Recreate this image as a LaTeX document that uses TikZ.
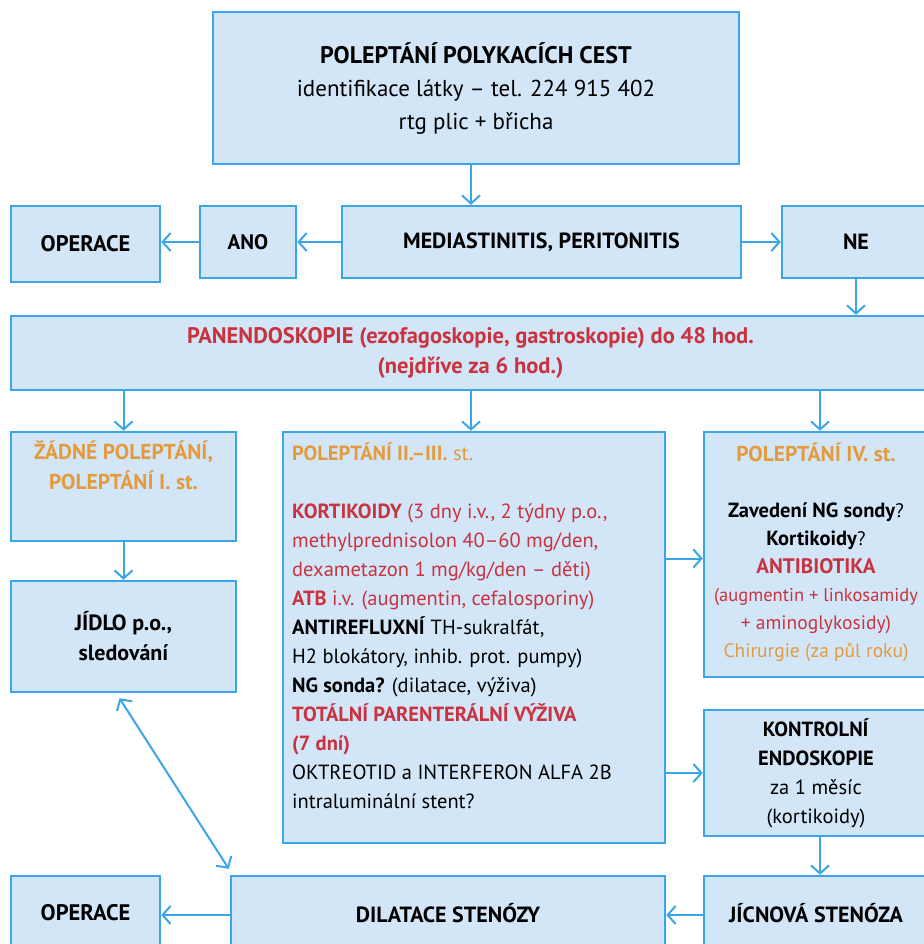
\documentclass[tikz,border=0pt]{standalone}
\usepackage{fontspec}
\setmainfont{PT Sans}
\usetikzlibrary{arrows.meta,calc}
\definecolor{bfill}{HTML}{D2E6F8}
\definecolor{bline}{HTML}{3AA6E8}
\definecolor{cred}{HTML}{C9333F}
\definecolor{corange}{HTML}{E39B3D}
\newcommand{\fsz}[2]{\fontsize{#1}{#2}\selectfont}
\begin{document}
\begin{tikzpicture}[x=1pt,y=-1pt,
 box/.style={draw=bline, fill=bfill, line width=2.5pt, inner sep=0pt, align=center,
   font=\fsz{22}{30}},
 txt/.style={inner sep=0pt, font=\fsz{20.5}{29}},
 arr/.style={draw=bline, line width=2pt, -{Straight Barb[length=8pt,width=18pt,line width=2pt]}},
 darr/.style={draw=bline, line width=2pt, {Straight Barb[length=8pt,width=18pt,line width=2pt]}-{Straight Barb[length=8pt,width=18pt,line width=2pt]}},
]
\useasboundingbox (0,0) rectangle (923,944);
\fill[white] (0,0) rectangle (923,944);

% top row
\node[box, minimum width=526, minimum height=152, font=\fsz{23}{33}] (top) at (476,88)
  {{\fsz{24}{33}\textbf{POLEPTÁNÍ POLYKACÍCH CEST}}\\identifikace látky – tel. 224 915 402\\rtg plic + břicha};
\node[box, minimum width=149, minimum height=76, font=\fsz{22.5}{30}] (op1) at (85.5,244) {\textbf{OPERACE}};
\node[box, minimum width=96, minimum height=72, font=\fsz{21}{30}] (ano) at (248,242) {\textbf{ANO}};
\node[box, minimum width=399, minimum height=72] (med) at (541.5,242) {\textbf{MEDIASTINITIS, PERITONITIS}};
\node[box, minimum width=148, minimum height=72] (ne) at (856,242) {\textbf{NE}};

\node[box, minimum width=919, minimum height=74, text=cred, font=\fsz{22.5}{30}] (pan) at (470.5,353)
  {\textbf{PANENDOSKOPIE (ezofagoskopie, gastroskopie) do 48 hod.}\\\textbf{(nejdříve za 6 hod.)}};

% middle
\node[box, minimum width=225, minimum height=109] (zad) at (123.5,486.5) {};
\node[txt, align=center, text=corange, anchor=north, font=\fsz{21.5}{30}] (zadt) at (123.5,441)
  {\textbf{ŽÁDNÉ POLEPTÁNÍ,}\\\textbf{POLEPTÁNÍ I. st.}};
\node[box, minimum width=225, minimum height=111] (jid) at (123.5,636.5) {\textbf{JÍDLO p.o.,}\\\textbf{sledování}};

\node[box, minimum width=382, minimum height=411] (p23) at (474,637.5) {};
\node[txt, align=left, anchor=north west] (p23t) at (292,442)
  {\textcolor{corange}{\textbf{POLEPTÁNÍ II.–III.} st.}\\[29pt]
   \textcolor{cred}{\textbf{KORTIKOIDY} (3 dny i.v., 2 týdny p.o.,}\\
   \textcolor{cred}{methylprednisolon 40–60 mg/den,}\\
   \textcolor{cred}{dexametazon 1 mg/kg/den – děti)}\\
   \textcolor{cred}{\textbf{ATB} i.v. (augmentin, cefalosporiny)}\\
   \textbf{ANTIREFLUXNÍ} TH-sukralfát,\\
   H2 blokátory, inhib. prot. pumpy)\\
   \textbf{NG sonda?} (dilatace, výživa)\\
   \textcolor{cred}{\textbf{TOTÁLNÍ PARENTERÁLNÍ VÝŽIVA}}\\
   \textcolor{cred}{\textbf{(7 dní)}}\\
   OKTREOTID a INTERFERON ALFA 2B\\
   intraluminální stent?};

\node[box, minimum width=224, minimum height=245] (p4) at (816,554.5) {};
\node[txt, align=center, anchor=north, font=\fsz{19.5}{28}] (p4t) at (816,443)
  {\textcolor{corange}{\fsz{21.5}{28}\textbf{POLEPTÁNÍ IV. st.}}\\[28pt]
   {\fsz{20.5}{28}\textbf{Zavedení NG sondy}}?\\
   {\fsz{20.5}{28}\textbf{Kortikoidy}}?\\
   \textcolor{cred}{\fsz{21}{28}\textbf{ANTIBIOTIKA}}\\
   \textcolor{cred}{\fsz{18.5}{28}(augmentin + linkosamidy}\\
   \textcolor{cred}{+ aminoglykosidy)}\\
   \textcolor{corange}{Chirurgie (za půl roku)}};

\node[box, minimum width=224, minimum height=126, font=\fsz{20.5}{29}] (kon) at (816,773)
  {\textbf{KONTROLNÍ}\\\textbf{ENDOSKOPIE}\\za 1 měsíc\\(kortikoidy)};

% bottom row
\node[box, minimum width=149, minimum height=74, font=\fsz{22.5}{30}] (op2) at (85.5,913) {\textbf{OPERACE}};
\node[box, minimum width=434, minimum height=74] (dil) at (448,913) {\textbf{DILATACE STENÓZY}};
\node[box, minimum width=224, minimum height=74] (jic) at (816,913) {\textbf{JÍCNOVÁ STENÓZA}};

% connectors
\draw[arr] ($(top.south)+(-5,0)$) -- ($(top.south |- med.north)+(-5,0)$);
\draw[arr] (med.west) -- (ano.east);
\draw[arr] (ano.west) -- (ano.west -| op1.east);
\draw[arr] (med.east) -- (ne.west);
\draw[arr] (ne.south) -- (ne.south |- pan.north);
\draw[arr] (pan.south -| zad.north) -- (zad.north);
\draw[arr] ($(pan.south -| p23.north)+(-3,0)$) -- ($(p23.north)+(-3,0)$);
\draw[arr] ($(pan.south -| p4.north)+(4,0)$) -- ($(p4.north)+(4,0)$);
\draw[arr] (zad.south) -- (jid.north);
\draw[arr] ($(p4.west -| p23.east)+(0,4)$) -- ($(p4.west)+(0,4)$);
\draw[arr] (kon.west -| p23.east) -- (kon.west);
\draw[arr] ($(kon.south)+(4,0)$) -- ($(kon.south |- jic.north)+(4,0)$);
\draw[arr] ($(jic.west)+(0,2)$) -- ($(jic.west -| dil.east)+(0,2)$);
\draw[arr] ($(dil.west)+(0,2)$) -- ($(dil.west -| op2.east)+(0,2)$);
\draw[darr] ($(jid.south)+(-4,5)$) -- ($(dil.north west)+(-1,-6)$);
\end{tikzpicture}
\end{document}
